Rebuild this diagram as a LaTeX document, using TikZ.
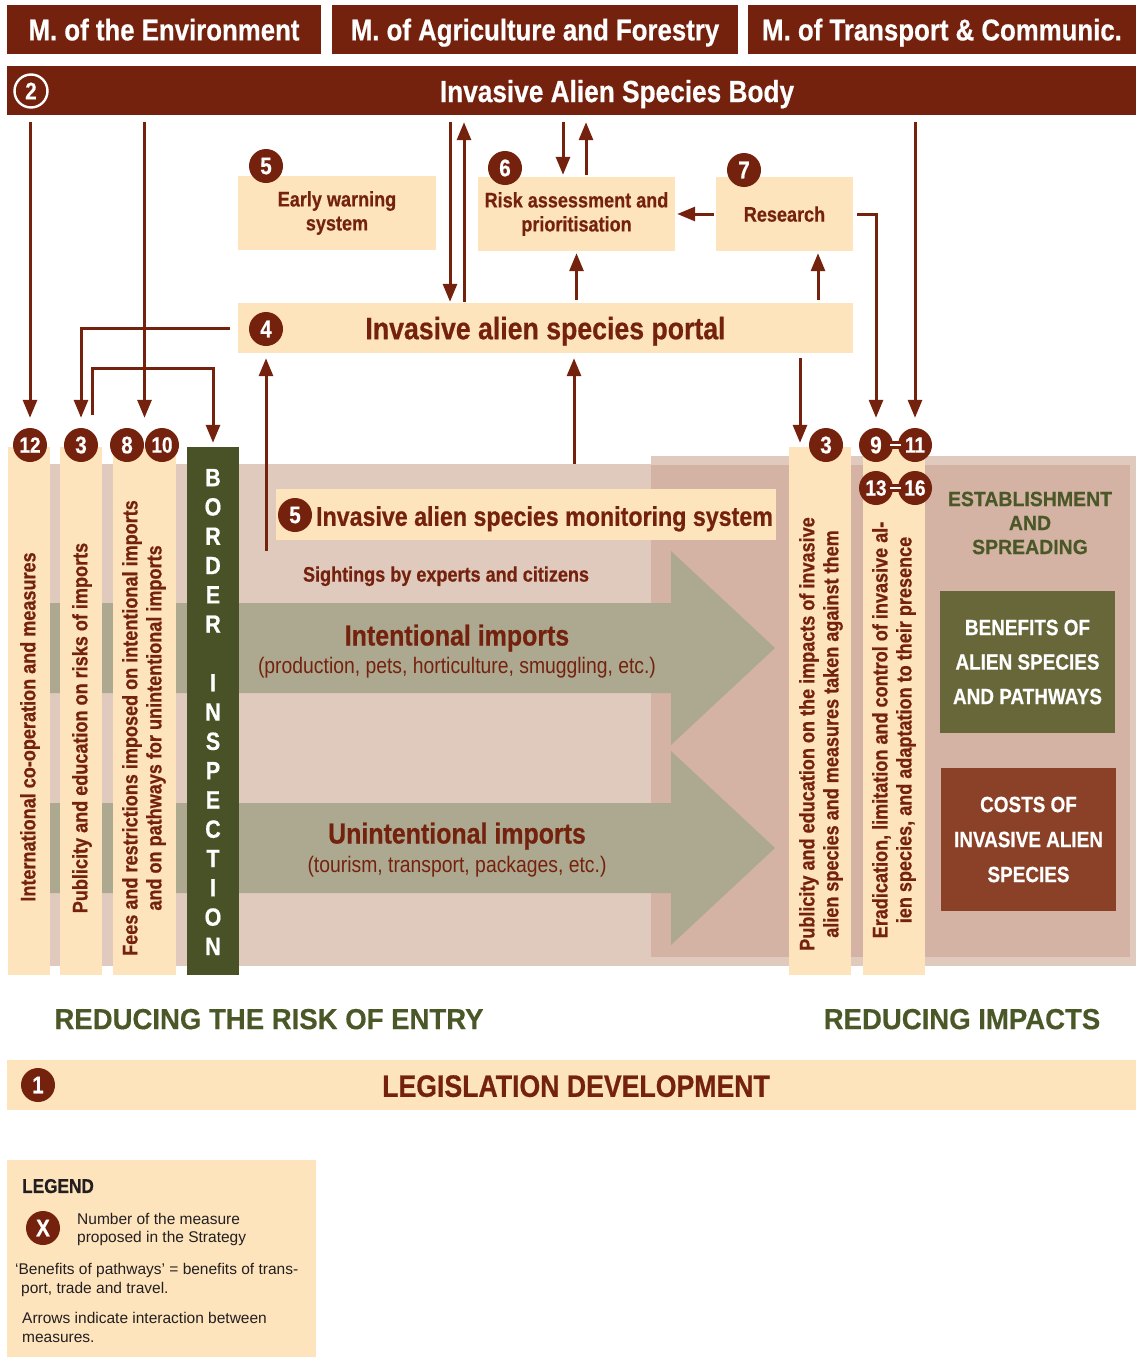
\documentclass[tikz,border=0pt]{standalone}
\usepackage{fontspec}
\setmainfont{Liberation Sans}
\newfontfamily\cnd[FakeStretch=0.86, BoldFeatures={FakeBold=0.6}]{Liberation Sans}
\newfontfamily\wid[FakeStretch=0.95, BoldFeatures={FakeBold=0.4}]{Liberation Sans}
\usetikzlibrary{arrows.meta,calc}
\definecolor{brn}{RGB}{116,34,14}
\definecolor{cream}{RGB}{253,228,189}
\definecolor{pinkA}{RGB}{223,202,189}
\definecolor{pinkB}{RGB}{212,179,165}
\definecolor{arr}{RGB}{173,169,145}
\definecolor{bgreen}{RGB}{73,81,38}
\definecolor{olive}{RGB}{103,103,58}
\definecolor{cost}{RGB}{138,65,40}
\definecolor{grn}{RGB}{74,87,38}
\definecolor{legtxt}{RGB}{35,31,32}
\newcommand\myfs[2]{\fontsize{#1}{#2}\selectfont}
\tikzset{
  topbox/.style={fill=brn, text=white, inner sep=0pt, text depth=0pt, font=\cnd\bfseries\myfs{30}{34}},
  box/.style={fill=cream, inner sep=0pt, text=brn, align=center, font=\cnd\bfseries\myfs{21}{24}},
  strip/.style={fill=cream, inner sep=0pt, minimum height=528pt},
  vtext/.style={rotate=90, text=brn, align=center, inner sep=0pt, font=\cnd\bfseries\myfs{21}{24}},
  num/.style={circle, fill=brn, text=white, minimum size=34pt, inner sep=0pt, font=\cnd\bfseries\myfs{24}{24}},
  con/.style={draw=brn, line width=3pt, -{Triangle[length=18pt,width=14pt]}},
  plain/.style={inner sep=0pt},
  one/.style={inner sep=0pt, text depth=0pt},
}
\begin{document}
\begin{tikzpicture}[x=1pt,y=-1pt]
\useasboundingbox (0,0) rectangle (1136,1357);

% ---------- top row ----------
\node[topbox, minimum width=314pt, minimum height=49pt] (menv) at (164,29.5) {M. of the Environment};
\node[topbox, minimum width=406pt, minimum height=49pt] (magr) at (535,29.5) {M. of Agriculture and Forestry};
\node[topbox, minimum width=388pt, minimum height=49pt] (mtra) at (942,29.5) {M. of Transport \& Communic.};

% ---------- body ----------
\node[fill=brn, minimum width=1129pt, minimum height=49pt, inner sep=0pt] (body) at (571.5,90.5) {};
\node[one, text=white, font=\cnd\bfseries\myfs{30.5}{34}] (bodytxt) at (617,91) {Invasive Alien Species Body};
\node[circle, draw=white, line width=2.4pt, minimum size=33pt, inner sep=0pt, text=white, font=\cnd\bfseries\myfs{24}{24}] (c2) at (31,91) {2};

% ---------- upper boxes ----------
\node[box, minimum width=198pt, minimum height=74pt] (ew) at (337,213) {Early warning\\system};
\node[box, minimum width=197pt, minimum height=74pt] (risk) at (576.5,214) {Risk assessment and\\prioritisation};
\node[box, minimum width=137pt, minimum height=74pt, text depth=0pt] (res) at (784.5,214) {Research};
\node[num] (c5a) at (266,166) {5};
\node[num] (c6) at (505,168) {6};
\node[num] (c7) at (744,170) {7};

\node[box, minimum width=615pt, minimum height=50pt, text depth=0pt, font=\cnd\bfseries\myfs{31}{34}] (portal) at (545.5,328) {Invasive alien species portal};
\node[num] (c4) at (266,329) {4};

% ---------- pink background ----------
\fill[pinkA] (45,464) rectangle (1136,966);
\fill[pinkA] (651,456) rectangle (1136,464);
\fill[pinkB] (651,465) rectangle (1130,957);

% ---------- big import arrows ----------
\fill[arr] (45,603) -- (671,603) -- (671,551) -- (775,648) -- (671,745) -- (671,693) -- (45,693) -- cycle;
\fill[arr] (45,803) -- (671,803) -- (671,751) -- (775,848) -- (671,945) -- (671,893) -- (45,893) -- cycle;
\node[one, text=brn, font=\cnd\bfseries\myfs{29}{32}] (intl) at (457,635) {Intentional imports};
\node[plain, text=brn, font=\cnd\myfs{22.5}{26}] (intls) at (457,668) {(production, pets, horticulture, smuggling, etc.)};
\node[one, text=brn, font=\cnd\bfseries\myfs{29}{32}] (unin) at (457,833) {Unintentional imports};
\node[plain, text=brn, font=\cnd\myfs{22.5}{26}] (unins) at (457,867) {(tourism, transport, packages, etc.)};

% ---------- monitoring ----------
\node[fill=cream, minimum width=500pt, minimum height=51pt, inner sep=0pt] (mon) at (526,514.5) {};
\node[one, text=brn, font=\cnd\bfseries\myfs{27}{30}] (montxt) at (544.5,516) {Invasive alien species monitoring system};
\node[num] (c5b) at (295,515) {5};
\node[one, text=brn, font=\cnd\bfseries\myfs{21}{24}] (sight) at (446,574) {Sightings by experts and citizens};

% ---------- strips ----------
\node[strip, minimum width=42pt] (sA) at (29,711) {};
\node[strip, minimum width=42pt] (sB) at (81,711) {};
\node[strip, minimum width=63pt] (sC) at (144.5,711) {};
\node[strip, minimum width=52pt, fill=bgreen] (bi) at (213,711) {};
\node[strip, minimum width=62pt] (sD) at (820,711) {};
\node[strip, minimum width=62pt] (sE) at (894,711) {};

\node[vtext] (tA) at (30,727) {International co-operation and measures};
\node[vtext] (tB) at (82,728) {Publicity and education on risks of imports};
\node[vtext] (tC) at (144,728) {Fees and restrictions imposed on intentional imports\\and on pathways for unintentional imports};
\node[vtext] (tD) at (821,734) {Publicity and education on the impacts of invasive\\alien species and measures taken against them};
\node[vtext] (tE) at (894,730) {Eradication, limitation and control of invasive al-\\ien species, and adaptation to their presence};
\node[plain, text=white, align=center, font=\cnd\bfseries\myfs{25}{29.3}] (bitxt) at (213,712)
  {B\\O\\R\\D\\E\\R\\[29.3pt]I\\N\\S\\P\\E\\C\\T\\I\\O\\N};

% ---------- numbers on strips ----------
\node[num, font=\cnd\bfseries\myfs{22}{22}] (c12) at (30,445) {12};
\node[num] (c3) at (81,445) {3};
\node[num] (c8) at (127,445) {8};
\node[num, font=\cnd\bfseries\myfs{22}{22}] (c10) at (162,445) {10};
\node[num] (c3r) at (826,445) {3};
\fill[brn] (876,441) rectangle (915,449);
\fill[brn] (876,484) rectangle (915,492);
\node[num] (c9) at (876,445) {9};
\node[num, font=\cnd\bfseries\myfs{22}{22}] (c11) at (915,445) {11};
\node[num, font=\cnd\bfseries\myfs{22}{22}] (c13) at (876,488) {13};
\node[num, font=\cnd\bfseries\myfs{22}{22}] (c16) at (915,488) {16};
\draw[white, line width=2pt] ($(c9.east)+(-3,0)$) -- ($(c11.west)+(3,0)$);
\draw[white, line width=2pt] ($(c13.east)+(-3,0)$) -- ($(c16.west)+(3,0)$);

% ---------- right side ----------
\node[plain, text=grn, align=center, font=\wid\bfseries\myfs{20.5}{24}] (estab) at (1030,523) {ESTABLISHMENT\\AND\\SPREADING};
\node[fill=olive, minimum width=175pt, minimum height=142pt, inner sep=0pt, text=white, align=center, font=\cnd\bfseries\myfs{22}{34.5}] (ben) at (1027.5,662) {BENEFITS OF\\ALIEN SPECIES\\AND PATHWAYS};
\node[fill=cost, minimum width=175pt, minimum height=143pt, inner sep=0pt, text=white, align=center, font=\cnd\bfseries\myfs{22}{35}] (cst) at (1028.5,839.5) {COSTS OF\\INVASIVE ALIEN\\SPECIES};

% ---------- bottom ----------
\node[one, text=grn, font=\wid\bfseries\myfs{29}{32}] (rre) at (269,1019) {REDUCING THE RISK OF ENTRY};
\node[one, text=grn, font=\wid\bfseries\myfs{29}{32}] (rim) at (962,1019) {REDUCING IMPACTS};
\node[fill=cream, minimum width=1129pt, minimum height=50pt, inner sep=0pt] (leg) at (571.5,1085) {};
\node[one, text=brn, font=\cnd\bfseries\myfs{31}{34}] (legtxt) at (576,1086) {LEGISLATION DEVELOPMENT};
\node[num] (c1) at (38,1085) {1};

% ---------- legend ----------
\node[fill=cream, minimum width=309pt, minimum height=197pt, inner sep=0pt] (lgd) at (161.5,1258.5) {};
\node[one, anchor=west, text=legtxt, font=\cnd\bfseries\myfs{20}{22}] (lgt) at (22,1186) {LEGEND};
\node[num] (cx) at (43,1228) {X};
\node[plain, anchor=west, align=left, text=legtxt, font=\myfs{15.5}{18}] (lg1) at (77,1229) {Number of the measure\\proposed in the Strategy};
\node[plain, anchor=west, align=left, text=legtxt, font=\myfs{15.5}{19}] (lg2) at (15,1280) {‘Benefits of pathways’ = benefits of trans-\\\hspace*{6pt}port, trade and travel.};
\node[plain, anchor=west, align=left, text=legtxt, font=\myfs{15.5}{19}] (lg3) at (22,1327) {Arrows indicate interaction between\\measures.};

% ---------- helper coordinates ----------
\coordinate (xa) at (450,0);
\coordinate (xb) at (464,0);
\coordinate (xc) at (563,0);
\coordinate (xd) at (586,0);
\coordinate (xe) at (818,0);
\coordinate (xf) at (800,0);
\coordinate (c810) at ($(c8.north)!0.5!(c10.north)$);
\coordinate (c3out) at (92,415);
\coordinate (jog) at (0,368);
\coordinate (mstart) at (266,551);
\coordinate (sstart) at (574,464);

% ---------- connectors ----------
\draw[con, shorten <=7pt, shorten >=10pt] (body.south -| c12) -- (c12.north);
\draw[con, shorten <=7pt, shorten >=10pt] (body.south -| c810) -- (c810);
\draw[con, shorten <=7pt, shorten >=10pt] (body.south -| c11) -- (c11.north);
\draw[con, shorten <=7pt, shorten >=1pt] (body.south -| xa) -- (portal.north -| xa);
\draw[con, shorten <=1pt, shorten >=7pt] (portal.north -| xb) -- (body.south -| xb);
\draw[con, shorten <=7pt, shorten >=2pt] (body.south -| xc) -- (risk.north -| xc);
\draw[con, shorten <=2pt, shorten >=7pt] (risk.north -| xd) -- (body.south -| xd);
\draw[con, shorten <=2pt, shorten >=2pt] (res.west) -- (risk.east);
\draw[con, shorten <=3pt, shorten >=2pt] (portal.north -| risk.south) -- (risk.south);
\draw[con, shorten <=3pt, shorten >=2pt] (portal.north -| xe) -- (res.south -| xe);
\draw[con, shorten <=4pt, shorten >=10pt] (res.east) -| (c9.north);
\draw[con, shorten <=8pt, shorten >=10pt] (portal.west) -| (c3.north);
\draw[con, shorten >=4pt] (c3out) -- (c3out |- jog) -- (bi.north |- jog) -- (bi.north);
\draw[con, shorten >=5pt] (mstart) -- (c4 |- portal.south);
\draw[con, shorten >=5pt] (sstart) -- (sstart |- portal.south);
\draw[con, shorten <=5pt, shorten >=4pt] (portal.south -| xf) -- (sD.north -| xf);
\end{tikzpicture}
\end{document}
